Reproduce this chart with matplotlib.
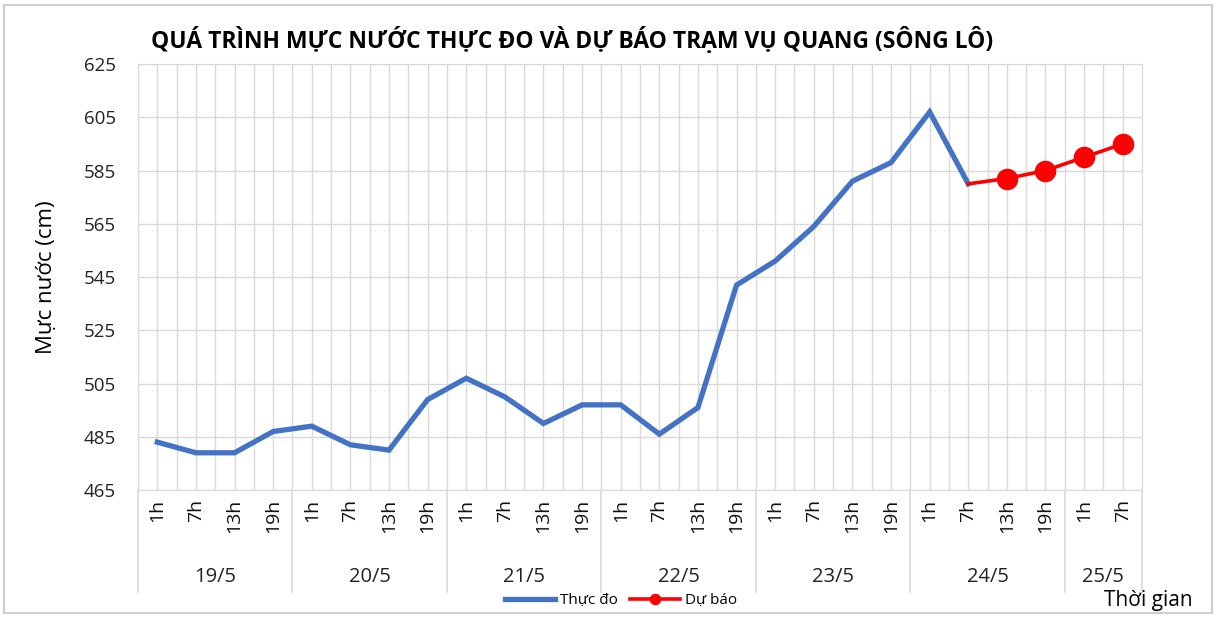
import numpy as np
import matplotlib.pyplot as plt
from matplotlib.transforms import blended_transform_factory
from matplotlib.patches import Rectangle

# Mực nước thực đo và dự báo trạm Vụ Quang
ngay = ['19/5', '20/5', '21/5', '22/5', '23/5', '24/5', '25/5']
so_gio = [4, 4, 4, 4, 4, 4, 2]
gio = ['1h', '7h', '13h', '19h'] * 6 + ['1h', '7h']

thuc_do = [483, 479, 479, 487, 489, 482, 480, 499,
           507, 500, 490, 497, 497, 486, 496, 542,
           551, 564, 581, 588, 607, 580]
du_bao = [580, 582, 585, 590, 595]

xanh = '#4472C4'
do = '#FF0000'
luoi = '#D9D9D9'
chu = ['Open Sans', 'DejaVu Sans']

fig = plt.figure(figsize=(12.17, 6.18), dpi=100)
fig.patches.append(Rectangle((0.003, 0.008), 0.993, 0.984, transform=fig.transFigure,
                             fill=False, edgecolor='#D0D0D0', linewidth=1.5))
ax = fig.add_axes([0.1134, 0.207, 0.825, 0.6894])

x_td = np.arange(len(thuc_do))
x_db = np.arange(len(thuc_do) - 1, len(thuc_do) - 1 + len(du_bao))

ax.plot(x_td, thuc_do, color=xanh, linewidth=3.8, solid_joinstyle='miter', label='Thực đo', zorder=3)
ax.plot(x_db, du_bao, color=do, linewidth=2.6, marker='o', markersize=14.5,
        markevery=[1, 2, 3, 4], label='Dự báo', zorder=4)

ax.set_xlim(-0.5, len(gio) - 0.5)
ax.set_ylim(465, 625)
ax.set_yticks(np.arange(465, 626, 20))
ax.set_xticks(np.arange(-0.5, len(gio), 0.5))
ax.set_xticklabels([])
ax.grid(True, color=luoi, linewidth=1.0, zorder=0)
ax.tick_params(axis='both', length=0)
ax.tick_params(axis='y', pad=16, labelsize=13.5, labelcolor='#222222')
for lbl in ax.get_yticklabels():
    lbl.set_family(chu)
for s in ax.spines.values():
    s.set_color(luoi)

# trục hoành nhiều cấp
tr = blended_transform_factory(ax.transData, ax.transAxes)
day = -0.239
ranh = np.concatenate([[0], np.cumsum(so_gio)]) - 0.5
for b in ranh:
    ax.plot([b, b], [0, day], transform=tr, color=luoi, linewidth=1.2, clip_on=False)
for i, g in enumerate(gio):
    ax.text(i, -0.02, g, transform=tr, rotation=90, ha='center', va='top',
            fontsize=14, family=chu, color='#111111')
for k, d in enumerate(ngay):
    giua = (ranh[k] + ranh[k + 1]) / 2
    ax.text(giua, -0.204, d, transform=tr, ha='center', va='center',
            fontsize=14.5, family=chu, color='#222222')

ax.set_ylabel('Mực nước (cm)', fontsize=16, family=chu, labelpad=19)
fig.text(0.124, 0.935, 'QUÁ TRÌNH MỰC NƯỚC THỰC ĐO VÀ DỰ BÁO TRẠM VỤ QUANG (SÔNG LÔ)',
         fontsize=16.5, fontweight='bold', family=chu, ha='left', va='center')
fig.text(0.98, 0.028, 'Thời gian', fontsize=15, family=chu, ha='right', va='center')

ax.legend(loc='center', bbox_to_anchor=(0.510, 0.028), bbox_transform=fig.transFigure,
          ncol=2, frameon=False, prop={'family': chu, 'size': 11},
          handlelength=3.3, columnspacing=0.8, handletextpad=0.3, markerscale=0.5)

fig.savefig('out.png', dpi=100)
